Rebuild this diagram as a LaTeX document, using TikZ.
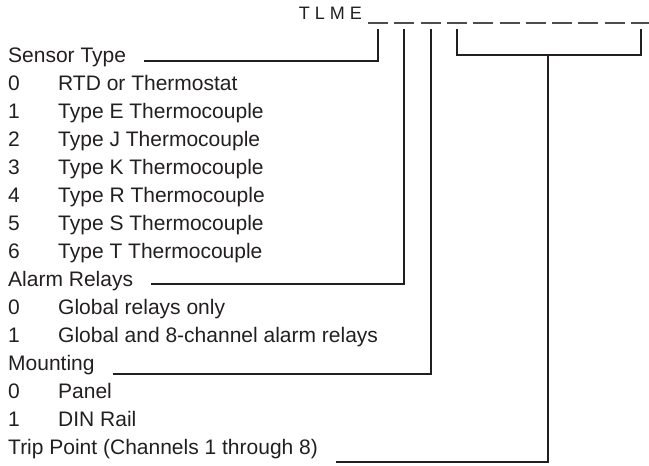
\documentclass[tikz,border=0pt]{standalone}
\usepackage{fontspec}
\setmainfont{Liberation Sans}
\usetikzlibrary{calc}
\definecolor{ink}{HTML}{231F20}
\begin{document}
\begin{tikzpicture}[x=1pt,y=-1pt,
  lbl/.style={inner sep=0pt, anchor=base west, font=\fontsize{21}{21}\selectfont, text=ink},
  conn/.style={draw=ink, line width=2pt},
  slot/.style={draw=ink!80, line width=1.3pt}]
\useasboundingbox (0,0) rectangle (649,466);
% code
\node[lbl, anchor=base east, font=\fontsize{18}{18}\selectfont] (code) at (362,19) {T L M E};
\foreach \i in {1,...,11}{
  \draw[slot] ({368+26.3*(\i-1)},23) -- ++(20,0);
  \coordinate (d\i) at ({378+26.3*(\i-1)},29);
}
\coordinate (bm) at (548,55);
% rows
\node[lbl] (sensor) at (8,62) {Sensor Type};
\foreach \n/\t [count=\k from 1] in {0/RTD or Thermostat,1/Type E Thermocouple,2/Type J Thermocouple,3/Type K Thermocouple,4/Type R Thermocouple,5/Type S Thermocouple,6/Type T Thermocouple}{
  \node[lbl] (sn\n) at (8,{62+28*\k}) {\n};
  \node[lbl] (st\n) at (58,{62+28*\k}) {\t};
}
\node[lbl] (alarm) at (8,286) {Alarm Relays};
\node[lbl] (an0) at (8,314) {0};
\node[lbl] (at0) at (58,314) {Global relays only};
\node[lbl] (an1) at (8,342) {1};
\node[lbl] (at1) at (58,342) {Global and 8-channel alarm relays};
\node[lbl] (mount) at (8,370) {Mounting};
\node[lbl] (mn0) at (8,398) {0};
\node[lbl] (mt0) at (58,398) {Panel};
\node[lbl] (mn1) at (8,426) {1};
\node[lbl] (mt1) at (58,426) {DIN Rail};
\node[lbl] (trip) at (8,454) {Trip Point (Channels 1 through 8)};
% connectors
\draw[conn] ([xshift=18pt,yshift=1pt]sensor.base east) -| (d1);
\draw[conn] ([xshift=18pt,yshift=2pt]alarm.base east) -| (d2);
\draw[conn] ([xshift=18pt,yshift=-4pt]mount.base east) -| (d3);
\draw[conn] (d4) |- (bm) -| (d11);
\draw[conn] ([xshift=18pt,yshift=-8pt]trip.base east) -| (bm);
\end{tikzpicture}
\end{document}
